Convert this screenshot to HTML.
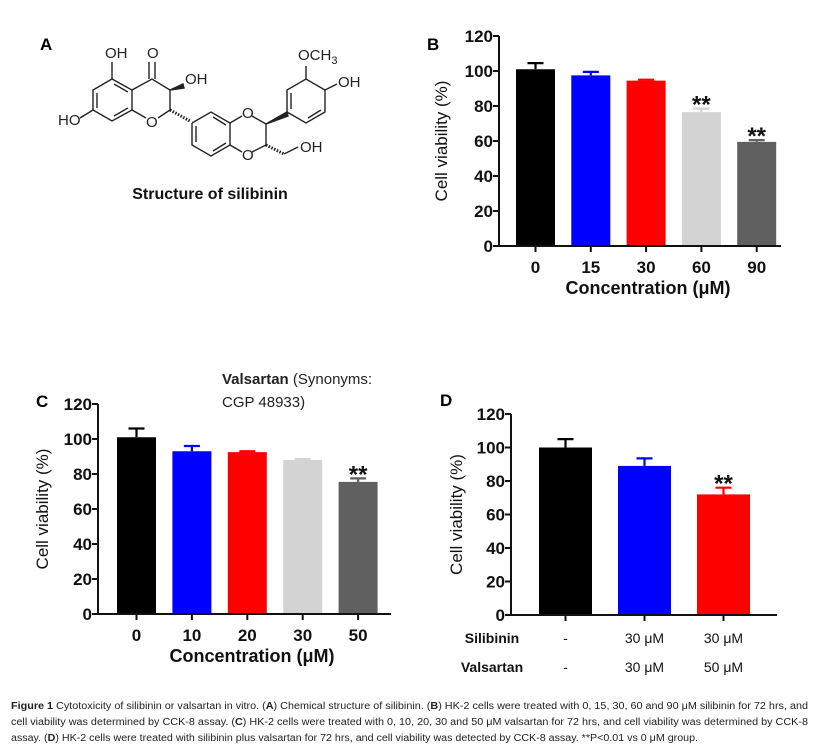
<!DOCTYPE html>
<html><head><meta charset="utf-8"><style>
html,body{margin:0;padding:0;background:#fff}
svg{display:block}
text{font-family:"Liberation Sans",Arial,sans-serif}
</style></head><body>
<svg id="fig" width="831" height="751" viewBox="0 0 831 751" xmlns="http://www.w3.org/2000/svg">
<rect width="831" height="751" fill="#fff"/>
<g stroke="#222" stroke-width="1.4" fill="none">
<text x="40" y="50" font-size="17" font-weight="bold" fill="#000" stroke="none">A</text>
<polyline points="112,79 93,90 93,110 112,121 132,110 132,90 112,79"/>
<line x1="97" y1="93" x2="97" y2="108"/><line x1="114" y1="116" x2="128" y2="108"/><line x1="114" y1="84" x2="128" y2="92"/>
<line x1="112" y1="79" x2="112" y2="62"/>
<polyline points="132,90 152,79 170,90 170,110"/>
<line x1="132" y1="110" x2="146" y2="118"/><line x1="158" y1="118" x2="170" y2="110"/>
<line x1="149" y1="79" x2="149" y2="62"/><line x1="155" y1="79" x2="155" y2="62"/>
<line x1="93" y1="110" x2="80" y2="118"/>
<polygon points="170,90 183,84 184,88" fill="#222"/>
<line x1="170" y1="110" x2="190" y2="121" stroke-dasharray="1.5,1.5" stroke-width="3"/>
<polyline points="192,123 211,112 230,123 230,145 211,156 192,145 192,123"/>
<line x1="196" y1="126" x2="196" y2="142"/><line x1="213" y1="151" x2="226" y2="143"/><line x1="213" y1="117" x2="226" y2="125"/>
<line x1="230" y1="123" x2="242" y2="116"/><line x1="252" y1="116" x2="266" y2="124"/>
<line x1="230" y1="145" x2="242" y2="152"/><line x1="252" y1="152" x2="266" y2="145"/>
<line x1="266" y1="124" x2="266" y2="145"/>
<polygon points="266,124 287,112 288,116" fill="#222"/>
<polyline points="287,112 287,90 306,79 325,90 325,112 306,123 287,112"/>
<line x1="291" y1="93" x2="291" y2="109"/><line x1="308" y1="118" x2="321" y2="110"/>
<line x1="306" y1="79" x2="306" y2="66"/><line x1="325" y1="90" x2="337" y2="84"/>
<line x1="266" y1="145" x2="284" y2="154" stroke-dasharray="1.5,1.5" stroke-width="3"/>
<line x1="284" y1="154" x2="298" y2="147"/>
<g stroke="none" fill="#222" font-size="15">
<text x="105" y="58">OH</text><text x="147" y="58">O</text>
<text x="185" y="84">OH</text><text x="58" y="125">HO</text>
<text x="146" y="127">O</text><text x="242" y="118">O</text><text x="242" y="160">O</text>
<text x="298" y="60">OCH<tspan font-size="11" dy="4">3</tspan></text>
<text x="338" y="87">OH</text><text x="300" y="152">OH</text>
</g>
<text x="210" y="199" text-anchor="middle" font-size="16" font-weight="bold" fill="#111" stroke="none">Structure of silibinin</text>
</g>
<text x="427" y="50" font-size="17" font-weight="bold">B</text>
<text x="36" y="407" font-size="17" font-weight="bold">C</text>
<text x="440" y="406" font-size="17" font-weight="bold">D</text>
<g font-size="15" fill="#222">
<text x="222" y="384"><tspan font-weight="bold">Valsartan</tspan> (Synonyms:</text>
<text x="222" y="407">CGP 48933)</text>
</g>
<g id="charts"></g>
<g font-size="10" fill="#222">
<text x="11" y="709" textLength="797" lengthAdjust="spacingAndGlyphs"><tspan font-weight="bold">Figure 1</tspan> Cytotoxicity of silibinin or valsartan in vitro. (<tspan font-weight="bold">A</tspan>) Chemical structure of silibinin. (<tspan font-weight="bold">B</tspan>) HK-2 cells were treated with 0, 15, 30, 60 and 90 μM silibinin for 72 hrs, and</text>
<text x="11" y="725" textLength="797" lengthAdjust="spacingAndGlyphs">cell viability was determined by CCK-8 assay. (<tspan font-weight="bold">C</tspan>) HK-2 cells were treated with 0, 10, 20, 30 and 50 μM valsartan for 72 hrs, and cell viability was determined by CCK-8</text>
<text x="11" y="741" textLength="687" lengthAdjust="spacingAndGlyphs">assay. (<tspan font-weight="bold">D</tspan>) HK-2 cells were treated with silibinin plus valsartan for 72 hrs, and cell viability was detected by CCK-8 assay. **P&lt;0.01 vs 0 μM group.</text>
</g>
</svg>
<script>
const yTicks = [0, 20, 40, 60, 80, 100, 120];
const bCategories = ["0", "15", "30", "60", "90"];
const bValues = [101, 97.5, 94.5, 76.5, 59.5];
const bErrors = [3.5, 2, 0.5, 2, 1];
const bSig = [false, false, false, true, true];
const cCategories = ["0", "10", "20", "30", "50"];
const cValues = [101, 93, 92.5, 88, 75.5];
const cErrors = [5, 3, 0.5, 0.5, 2];
const cSig = [false, false, false, false, true];
const dSilibinin = ["-", "30 μM", "30 μM"];
const dValsartan = ["-", "30 μM", "50 μM"];
const dValues = [100, 89, 72];
const dErrors = [5, 4.5, 4];
const dSig = [false, false, true];
const colors5 = ["#000000", "#0000ff", "#ff0000", "#d3d3d3", "#606060"];
const colors3 = ["#000000", "#0000ff", "#ff0000"];

const NS = "http://www.w3.org/2000/svg";
const root = document.getElementById("charts");
function mk(tag, attrs, parent, txt) {
  const e = document.createElementNS(NS, tag);
  for (const k in attrs) e.setAttribute(k, attrs[k]);
  if (txt !== undefined) e.textContent = txt;
  parent.appendChild(e);
  return e;
}
function chart(cfg) {
  const g = mk("g", {}, root);
  
  
  const y = v => cfg.y0 - (v / 120) * (cfg.y0 - cfg.y120);
  const xc = i => cfg.firstX + i * cfg.step + cfg.bw / 2;
  cfg.values.forEach((v, i) => {
    const r = mk("rect", {x: xc(i) - cfg.bw / 2, y: y(v), width: cfg.bw, height: cfg.y0 - y(v), fill: cfg.colors[i]}, g);
    
    
    const top = y(v + cfg.errors[i]);
    const eb = mk("path", {d: `M${xc(i)},${y(v)}V${top}M${xc(i)-cfg.cap},${top}H${xc(i)+cfg.cap}`, stroke: cfg.colors[i], "stroke-width": 2.2, fill: "none"}, g);
    
    
    if (cfg.sig[i]) {
      const s = mk("text", {x: xc(i), y: top + 4, "text-anchor": "middle", "font-size": 24, "font-weight": "bold", fill: "#111"}, g, "**");
      
      
    }
  });
  const ax = mk("path", {d: `M${cfg.ax},${cfg.y120}V${cfg.y0}H${cfg.axEnd}`, stroke: "#111", "stroke-width": 2, fill: "none"}, g);
  
  
  yTicks.forEach(t => {
    mk("line", {x1: cfg.ax - 6, x2: cfg.ax, y1: y(t), y2: y(t), stroke: "#111", "stroke-width": 2}, g);
    const tl = mk("text", {x: cfg.ax - 6, y: y(t) + 6, "text-anchor": "end", "font-size": 17, "font-weight": "bold", fill: "#111"}, g, t);
    
    
  });
  cfg.values.forEach((v, i) => {
    mk("line", {x1: xc(i), x2: xc(i), y1: cfg.y0, y2: cfg.y0 + 6, stroke: "#111", "stroke-width": 2}, g);
  });
  if (cfg.cats) {
    cfg.cats.forEach((c, i) => {
      const tl = mk("text", {x: xc(i), y: cfg.y0 + 27, "text-anchor": "middle", "font-size": 17, "font-weight": "bold", fill: "#111"}, g, c);
      
      
    });
    const xt = mk("text", {x: cfg.xTitleX, y: cfg.y0 + 48, "text-anchor": "middle", "font-size": 18, "font-weight": "bold", fill: "#111"}, g, "Concentration (μM)");
    
    
  }
  if (cfg.rows) {
    cfg.rows.forEach((row, r) => {
      const ry = cfg.y0 + 28 + r * 29;
      const lab = mk("text", {x: cfg.rowLabelX, y: ry, "text-anchor": "middle", "font-size": 14, "font-weight": "bold", fill: "#111"}, g, row.label);
      
      
      row.vals.forEach((c, i) => {
        const t = mk("text", {x: xc(i), y: ry, "text-anchor": "middle", "font-size": 14, fill: "#111"}, g, c);
        
        
      });
    });
  }
  const yt = mk("text", {x: 0, y: 0, transform: `translate(${cfg.yTitleX},${(cfg.y0 + cfg.y120) / 2}) rotate(-90)`, "text-anchor": "middle", "font-size": 17, fill: "#111"}, g, "Cell viability (%)");
  
  
}
chart({name: "chart-b", values: bValues, errors: bErrors, sig: bSig, colors: colors5, cats: bCategories,
  y0: 246, y120: 36, ax: 499, axEnd: 781, firstX: 516, step: 55.3, bw: 39, cap: 8, yTitleX: 447, xTitleX: 648});
chart({name: "chart-c", values: cValues, errors: cErrors, sig: cSig, colors: colors5, cats: cCategories,
  y0: 614, y120: 404, ax: 98, axEnd: 391, firstX: 117, step: 55.4, bw: 39, cap: 8, yTitleX: 48, xTitleX: 252});
chart({name: "chart-d", values: dValues, errors: dErrors, sig: dSig, colors: colors3,
  rows: [{label: "Silibinin", vals: dSilibinin}, {label: "Valsartan", vals: dValsartan}], rowLabelX: 492,
  y0: 615, y120: 414, ax: 511, axEnd: 777, firstX: 539, step: 79, bw: 53, cap: 8, yTitleX: 462});
</script>
</body></html>
